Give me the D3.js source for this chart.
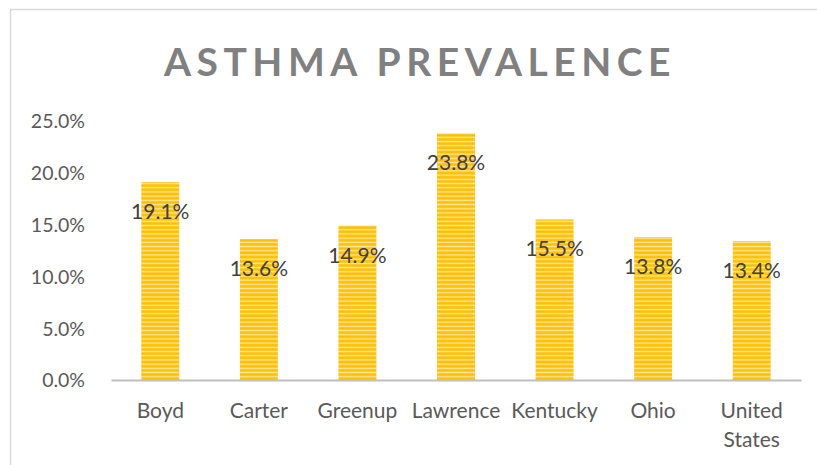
<!DOCTYPE html>
<html>
<head>
<meta charset="utf-8">
<script src="https://cdn.jsdelivr.net/npm/d3@7"></script>
<style>
  body { margin: 0; background: #fff; }
  svg { display: block; font-family: Lato, "Open Sans", sans-serif; }
</style>
</head>
<body>
<div id="chart"></div>
<script>
// data
var categories = ["Boyd", "Carter", "Greenup", "Lawrence", "Kentucky", "Ohio", "United States"];
var prevalence = [0.191, 0.136, 0.149, 0.238, 0.155, 0.138, 0.134];
var yTicks = [0, 0.05, 0.10, 0.15, 0.20, 0.25];

var rows = categories.map(function(c, i) { return { name: c, value: prevalence[i] }; });

var width = 817, height = 465;
var margin = { left: 111, right: 16, top: 121, bottom: 85 };

var svg = d3.select("#chart")
  .append("svg")
    .attr("width", width)
    .attr("height", height);

// striped fill
var defs = svg.append("defs");
var grad = defs.append("linearGradient")
    .attr("id", "stripeGrad")
    .attr("x1", 0).attr("y1", 0).attr("x2", 0).attr("y2", 1);
grad.append("stop").attr("offset", "0%").attr("stop-color", "#FFC000");
grad.append("stop").attr("offset", "40%").attr("stop-color", "#FFC000");
grad.append("stop").attr("offset", "70%").attr("stop-color", "#FFE5A0");
grad.append("stop").attr("offset", "100%").attr("stop-color", "#FFC000");

defs.append("pattern")
    .attr("id", "stripes")
    .attr("patternUnits", "userSpaceOnUse")
    .attr("width", 8)
    .attr("height", 4.2)
  .append("rect")
    .attr("width", 8)
    .attr("height", 4.2)
    .attr("fill", "url(#stripeGrad)");

// frame
svg.append("rect")
    .attr("x", 10.5)
    .attr("y", 9.5)
    .attr("width", 820)
    .attr("height", 470)
    .attr("fill", "none")
    .attr("stroke", "#D9D9D9")
    .attr("stroke-width", 1.5);

// title
svg.append("text")
    .attr("x", 420)
    .attr("y", 76)
    .attr("text-anchor", "middle")
    .attr("font-size", "39px")
    .attr("font-weight", "bold")
    .attr("letter-spacing", "5.5px")
    .attr("fill", "#808080")
    .text("ASTHMA PREVALENCE");

// scales
var x = d3.scaleBand()
    .domain(categories)
    .range([margin.left, width - margin.right])
    .paddingInner(0.615)
    .paddingOuter(0.3075);

var y = d3.scaleLinear()
    .domain([0, 0.25])
    .range([height - margin.bottom, margin.top]);

// y axis
var yAxis = svg.append("g")
    .attr("transform", "translate(" + (margin.left - 23) + ",0)")
    .call(d3.axisLeft(y).tickValues(yTicks).tickFormat(d3.format(".1%")).tickSize(0));
yAxis.select(".domain").remove();
yAxis.selectAll("text")
    .attr("font-size", "19.5px")
    .attr("font-family", "Lato, sans-serif")
    .attr("fill", "#595959")
    .attr("dy", "0.35em");

// bars
svg.selectAll(".bar")
  .data(rows)
  .enter().append("rect")
    .attr("class", "bar")
    .attr("x", function(d) { return x(d.name); })
    .attr("width", x.bandwidth())
    .attr("y", function(d) { return y(d.value); })
    .attr("height", function(d) { return y(0) - y(d.value); })
    .attr("fill", "url(#stripes)");

// x axis
var xAxis = svg.append("g")
    .attr("transform", "translate(0," + y(0) + ")")
    .call(d3.axisBottom(x).tickSize(0).tickPadding(22));
xAxis.select(".domain")
    .attr("stroke", "#BFBFBF")
    .attr("stroke-width", 2);
xAxis.selectAll(".tick text").remove();
xAxis.selectAll(".tick").each(function(d) {
  var t = d3.select(this).append("text")
      .attr("fill", "#595959")
      .attr("font-size", "21px")
      .attr("font-family", "Lato, sans-serif")
      .attr("text-anchor", "middle")
      .attr("y", 38);
  var words = d.split(" ");
  if (words.length > 1) {
    words.forEach(function(w, i) {
      t.append("tspan").attr("x", 0).attr("dy", i === 0 ? 0 : 29).text(w);
    });
  } else {
    t.text(d);
  }
});

// value labels
svg.selectAll(".label")
  .data(rows)
  .enter().append("text")
    .attr("class", "label")
    .attr("x", function(d) { return x(d.name) + x.bandwidth() / 2; })
    .attr("y", function(d) { return y(d.value) + 37; })
    .attr("text-anchor", "middle")
    .attr("font-size", "21px")
    .attr("fill", "#404040")
    .text(function(d) { return d3.format(".1%")(d.value); });
</script>
</body>
</html>
